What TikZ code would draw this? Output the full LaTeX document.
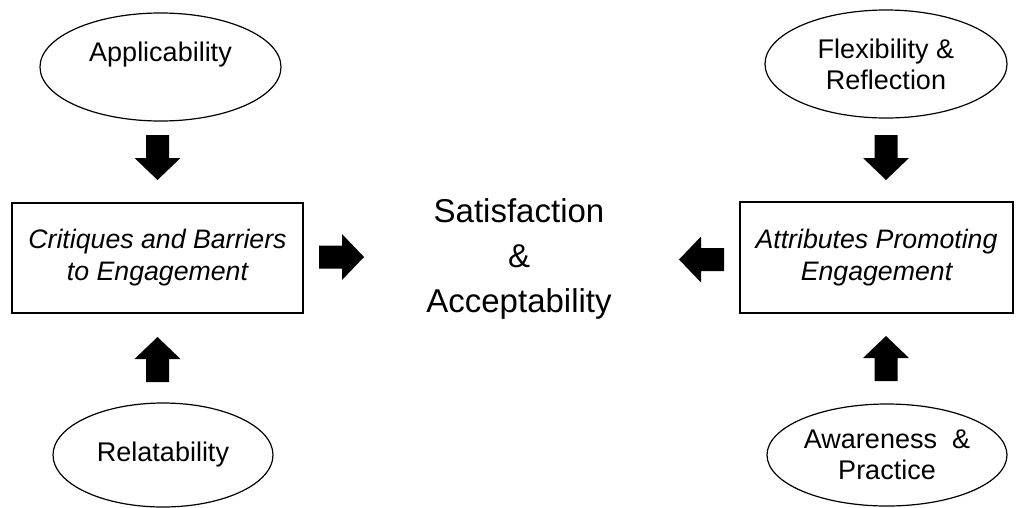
\documentclass[tikz,border=0pt]{standalone}
\usepackage{fontspec}
\setmainfont{Liberation Sans}
\usetikzlibrary{shapes.geometric}
\begin{document}
\begin{tikzpicture}[x=1pt,y=-1pt,
  oval/.style={draw,ellipse,line width=1.2pt,inner sep=0pt,align=center,
    font=\fontsize{27}{31}\selectfont},
  framebox/.style={draw,rectangle,line width=1.2pt,inner sep=0pt,align=center,
    font=\fontsize{26.7}{32}\selectfont\itshape},
  centertext/.style={align=center,inner sep=0pt,font=\fontsize{33}{45}\selectfont},
  blockarr/.pic={\fill[black] (0,-11.5) -- (23,-11.5) -- (23,-23) -- (45,0) -- (23,23) -- (23,11.5) -- (0,11.5) -- cycle;}
]
\useasboundingbox (0,0) rectangle (1019,507);
\node[oval,minimum width=241pt,minimum height=108pt] (app) at (160.5,67) {Applicability\\\mbox{}};
\node[oval,minimum width=242pt,minimum height=108pt] (flex) at (886,64) {Flexibility \&\\Reflection};
\node[oval,minimum width=220pt,minimum height=104pt] (rel) at (163,455) {Relatability};
\node[oval,minimum width=240pt,minimum height=102pt] (aware) at (887,455) {Awareness\ \ \&\\Practice};
\node[framebox,minimum width=291pt,minimum height=110pt] (crit) at (157.5,258) {Critiques and Barriers\\to Engagement};
\node[framebox,minimum width=273pt,minimum height=111pt] (attr) at (876.5,257.5) {Attributes Promoting\\Engagement};
\node[centertext] (sat) at (519,259) {Satisfaction\\\&\\Acceptability};
\pic[rotate=-90] (a1) at (157.5,135) {blockarr};
\pic[rotate=90] (a2) at (157.5,382) {blockarr};
\pic[rotate=-90] (a3) at (886,135) {blockarr};
\pic[rotate=90] (a4) at (886,381) {blockarr};
\pic (a5) at (319,257) {blockarr};
\pic[rotate=180] (a6) at (724,259.5) {blockarr};
\end{tikzpicture}
\end{document}
